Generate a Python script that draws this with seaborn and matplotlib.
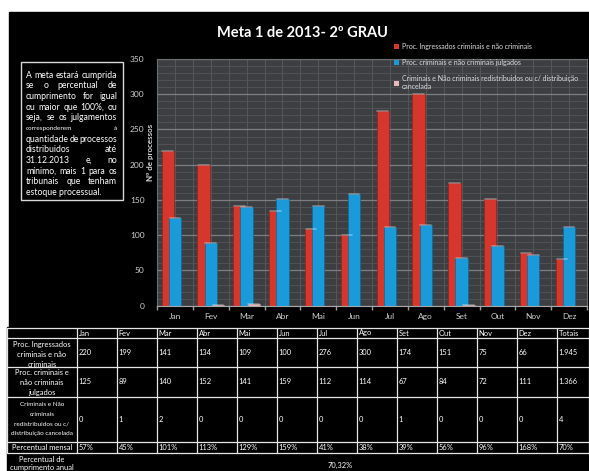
import numpy as np
import pandas as pd
import seaborn as sns
import matplotlib.pyplot as plt
from matplotlib.patches import Rectangle, Patch
from matplotlib.ticker import MultipleLocator

# chart data
meses = ['Jan', 'Fev', 'Mar', 'Abr', 'Mai', 'Jun', 'Jul', 'Ago', 'Set', 'Out', 'Nov', 'Dez']
ingressados = [220, 199, 141, 134, 109, 100, 276, 300, 174, 151, 75, 66]
julgados = [125, 89, 140, 152, 141, 159, 112, 114, 67, 84, 72, 111]
redistribuidos = [0, 1, 2, 0, 0, 0, 0, 0, 1, 0, 0, 0]
percentual_mensal = ['57%', '45%', '101%', '113%', '129%', '159%', '41%', '38%', '39%', '56%', '96%', '168%']
totais = ['1.945', '1.366', '4', '70%']
percentual_anual = '70,32%'

series = ['Proc. Ingressados criminais e não criminais',
          'Proc. criminais e não criminais julgados',
          'Criminais e Não criminais redistribuidos ou c/ distribuição\ncancelada']
cores = ['#d6362c', '#1b9ad9', '#e7b9b9']
bordas = ['#9a221b', '#10679a', '#b88a8a']

df = pd.DataFrame({
    'mes': meses * 3,
    'valor': ingressados + julgados + redistribuidos,
    'serie': [series[0]] * 12 + [series[1]] * 12 + [series[2]] * 12,
})

sns.set_theme(style="dark")
plt.rcParams['font.family'] = ['Lato', 'DejaVu Sans']

W, H = 589, 471
fig = plt.figure(figsize=(W / 100, H / 100), dpi=100, facecolor='white')

# background / overlay axes in pixel coordinates
bg = fig.add_axes([0, 0, 1, 1], zorder=0)
bg.set_xlim(0, W)
bg.set_ylim(H, 0)
bg.axis('off')
bg.patch.set_alpha(0)
bg.add_patch(Rectangle((9, 12), 580, 316, color='black', zorder=0))
bg.add_patch(Rectangle((7, 327), 582, 144, color='black', zorder=0))

fig.text(302 / W, 1 - 33 / H, 'Meta 1 de 2013- 2º GRAU', color='white',
         fontsize=10.5, fontweight='bold', ha='center', va='center')

# chart
ax = fig.add_axes([157 / W, 1 - 305.7 / H, 430 / W, 246.7 / H], zorder=1)
ax.set_facecolor('#3c3e41')
sns.barplot(data=df, x='mes', y='valor', hue='serie', palette=cores, width=0.6,
            dodge=True, saturation=1, legend=False, ax=ax)

for i, p in enumerate(ax.patches):
    k = i // 12
    c = p.get_x() + p.get_width() / 2
    p.set_width(0.34)
    p.set_x(c - 0.17)
    p.set_edgecolor(bordas[k])
    p.set_linewidth(0.5)
    h = p.get_height()
    if h > 0:
        ax.plot([c - 0.15, c + 0.15], [h, h], color='white', alpha=0.35, lw=1.2, zorder=3)

ax.set_ylim(0, 350)
ax.set_xlim(-0.5, 11.5)
ax.set_yticks(range(0, 351, 50))
ax.yaxis.set_minor_locator(MultipleLocator(10))
ax.set_xticks(np.arange(-0.5, 12, 1), minor=True)
ax.grid(which='major', axis='y', color='#7c7e80', lw=0.9)
ax.grid(which='minor', axis='y', color='#535558', lw=0.6)
ax.grid(which='both', axis='x', color='#55575a', lw=0.7)
ax.set_axisbelow(True)
ax.tick_params(axis='x', which='major', length=0, pad=5, labelsize=6, labelcolor='#cfcfcf')
ax.tick_params(axis='x', which='minor', length=3, color='#9a9a9a', direction='out', bottom=True)
ax.tick_params(axis='y', which='both', length=0, pad=9, labelsize=6, labelcolor='#cfcfcf')
ax.set_xlabel('')
ax.set_ylabel('Nº de processos', fontsize=5.8, fontweight='bold', color='#d8d8d8')
ax.yaxis.set_label_coords(-0.006, 0.62)
for s in ax.spines.values():
    s.set_color('#6c6e70')
    s.set_linewidth(0.8)
ax.spines['bottom'].set_color('#a8a8a8')

handles = [Patch(facecolor=c, edgecolor='none') for c in cores]
ax.legend(handles, series, loc='upper left', bbox_to_anchor=(391 / W, 1 - 39.5 / H),
          bbox_transform=fig.transFigure, frameon=False, fontsize=5.0, labelcolor='#dcdcdc',
          handlelength=0.7, handleheight=0.7, handletextpad=0.4, labelspacing=1.3, borderpad=0)

# left text box (justified)
bg.add_patch(Rectangle((21, 62), 102, 138, fill=False, edgecolor='#d8d8d8', lw=1))
linhas = ['A meta estará cumprida', 'se o percentual de', 'cumprimento for igual',
          'ou maior que 100%, ou', 'seja, se os julgamentos', 'corresponderem à',
          'quantidade de processos', 'distribuidos até', '31.12.2013 e, no',
          'mínimo, mais 1 para os', 'tribunais que tenham', 'estoque processual.']
renderer = fig.canvas.get_renderer()
x0, x1 = 26, 117
for n, linha in enumerate(linhas):
    y = 75 + n * 10.7
    fs = 4.6 if n == 5 else 6.2
    palavras = linha.split()
    if n == len(linhas) - 1:
        bg.text(x0, y, linha, color='white', fontsize=fs, va='center', ha='left')
        continue
    objs = [bg.text(0, y, w, color='white', fontsize=fs, va='center', ha='left') for w in palavras]
    larg = [t.get_window_extent(renderer).width for t in objs]
    gap = (x1 - x0 - sum(larg)) / max(len(palavras) - 1, 1)
    x = x0
    for t, w in zip(objs, larg):
        t.set_x(x)
        x += w + gap

# table
col_x = [7, 77] + [77 + 40 * i for i in range(1, 13)] + [589]
row_y = [327.7, 338, 366.7, 396.7, 441.7, 453]
tc = 'white'
tfs = 5.4

cabecalho = meses + ['Totais']
for j, txt in enumerate(cabecalho):
    bg.text(col_x[j + 1] + 1.5, 333, txt, color=tc, fontsize=tfs, va='center')

linhas_tab = [ingressados, julgados, redistribuidos, percentual_mensal]
for r, vals in enumerate(linhas_tab):
    yc = (row_y[r + 1] + row_y[r + 2]) / 2
    for j, v in enumerate(list(vals) + [totais[r]]):
        bg.text(col_x[j + 1] + 1.5, yc, str(v), color=tc, fontsize=tfs, va='center')

rotulos = [
    (['Proc. Ingressados', 'criminais e não', 'criminais'], [344.3, 354.3, 364.3], tfs),
    (['Proc. criminais e', 'não criminais', 'julgados'], [372.8, 382.3, 392.5], tfs),
    (['Criminais e Não', 'criminais', 'redistribuidos ou c/', 'distribuição cancelada'],
     [405, 414.3, 423.5, 433.3], 4.6),
    (['Percentual mensal'], [447.5], tfs),
    (['Percentual de', 'cumprimento anual'], [459.5, 467.5], tfs),
]
for linhas_r, ys, fs in rotulos:
    for txt, y in zip(linhas_r, ys):
        bg.text(42, y, txt, color=tc, fontsize=fs, ha='center', va='center')

bg.text(340, 465, percentual_anual, color=tc, fontsize=tfs, ha='center', va='center')

for y in row_y:
    bg.plot([7, 589], [y, y], color='#e6e6e6', lw=0.9, zorder=4)
for x in col_x:
    bg.plot([x, x], [row_y[0], row_y[-1]], color='#e6e6e6', lw=0.9, zorder=4)

plt.savefig('out.png', dpi=100, facecolor='white')
